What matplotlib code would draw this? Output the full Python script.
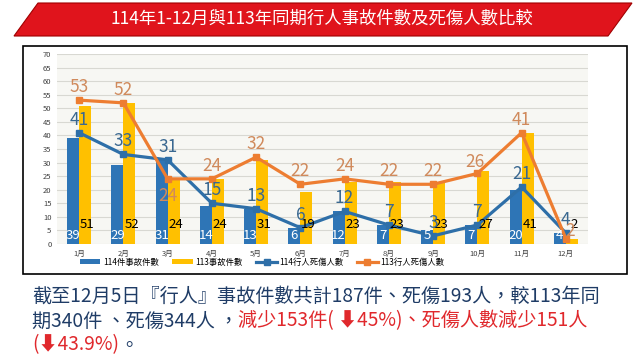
import numpy as np
import matplotlib
matplotlib.use('Agg')
import matplotlib.pyplot as plt
from matplotlib.patches import Polygon, Rectangle

plt.rcParams['font.family'] = ['Noto Sans CJK TC', 'DejaVu Sans']

# data
months = ['1月', '2月', '3月', '4月', '5月', '6月', '7月', '8月', '9月', '10月', '11月', '12月']
cases_114 = [39, 29, 31, 14, 13, 6, 12, 7, 5, 7, 20, 4]
cases_113 = [51, 52, 24, 24, 31, 19, 23, 23, 23, 27, 41, 2]
casualties_114 = [41, 33, 31, 15, 13, 6, 12, 7, 3, 7, 21, 4]
casualties_113 = [53, 52, 24, 24, 32, 22, 24, 22, 22, 26, 41, 2]
legend_labels = ['114件事故件數', '113事故件數', '114行人死傷人數', '113行人死傷人數']
title = '114年1-12月與113年同期行人事故件數及死傷人數比較'

W, H = 640, 360
fig = plt.figure(figsize=(6.4, 3.6), dpi=100)

def fx(px):
    return px / W

def fy(py):
    return 1 - py / H

# background layer: banner, chart box, text
bg = fig.add_axes([0, 0, 1, 1], zorder=-1)
bg.set_xlim(0, 1)
bg.set_ylim(0, 1)
bg.axis('off')

banner = Polygon([(fx(14), fy(36)), (fx(38), fy(3)), (fx(632), fy(3)), (fx(608), fy(36))],
                 closed=True, facecolor='#e0141c', edgecolor='#a00000', lw=0.8)
bg.add_patch(banner)
bg.text(fx(322), fy(19), title, color='white', fontsize=12.5, fontweight='medium',
        ha='center', va='center')

box = Rectangle((fx(23), fy(274)), fx(627 - 23), (274 - 46) / H,
                facecolor='white', edgecolor='black', lw=1.2)
bg.add_patch(box)

# chart
ax = fig.add_axes([fx(57), fy(244), fx(588 - 57), (244 - 54) / H])
ax.set_facecolor('#f7f7f3')
x = np.arange(len(months))
bw = 0.27
b1 = ax.bar(x - bw / 2, cases_114, bw, color='#2e75b6', label=legend_labels[0], zorder=2)
b2 = ax.bar(x + bw / 2, cases_113, bw, color='#ffc000', label=legend_labels[1], zorder=2)
l1, = ax.plot(x, casualties_114, color='#2e6fa8', lw=2.3, marker='s', ms=4,
              label=legend_labels[2], zorder=3)
l2, = ax.plot(x, casualties_113, color='#ed7d31', lw=2.3, marker='s', ms=4,
              label=legend_labels[3], zorder=3)

for i in range(len(months)):
    ax.text(x[i] - bw / 2, 3, str(cases_114[i]), color='white', fontsize=9.5,
            ha='center', va='center', zorder=5)
    ax.text(x[i] + bw / 2 + 0.05, 7, str(cases_113[i]), color='black', fontsize=9.5,
            ha='center', va='center', zorder=5)

off_114 = {}
off_113 = {2: (0, -17), 11: (4, 8), 9: (-2, 11)}
for i in range(len(months)):
    dx, dy = off_114.get(i, (0, 13))
    ax.annotate(str(casualties_114[i]), (x[i], casualties_114[i]), xytext=(dx, dy),
                textcoords='offset pixels', ha='center', va='center',
                color='#3a6890', fontsize=12.5, zorder=6)
    dx, dy = off_113.get(i, (0, 13))
    ax.annotate(str(casualties_113[i]), (x[i], casualties_113[i]), xytext=(dx, dy),
                textcoords='offset pixels', ha='center', va='center',
                color='#d08a5c', fontsize=12.5, zorder=6)

ax.set_xlim(-0.5, 11.5)
ax.set_ylim(0, 70)
ax.set_yticks(range(0, 71, 5))
ax.set_xticks(x)
ax.set_xticklabels(months)
ax.tick_params(axis='both', length=0, labelsize=5.5, colors='#404040', pad=4)
ax.grid(axis='y', color='#d8d8d2', lw=0.8, zorder=0)
for s in ax.spines.values():
    s.set_visible(False)

fig.legend([b1, b2, l1, l2], legend_labels, loc='center',
           bbox_to_anchor=(fx(262), fy(262)), ncol=4, frameon=False,
           fontsize=6, handlelength=2.5, columnspacing=1.6, handletextpad=0.3,
           handleheight=0.4)

# summary text with coloured parts
navy = '#1f3c66'
red = '#e0282c'
lines = [
    [('截至12月5日『行人』事故件數共計187件、死傷193人，較113年同', navy)],
    [('期340件 、死傷344人 ，', navy), ('減少153件( ⬇45%)、死傷人數減少151人', red)],
    [('(⬇43.9%)', red), ('。', navy)],
]
line_y = [296, 321, 345]
for parts, py in zip(lines, line_y):
    t = bg.text(fx(32), fy(py), parts[0][0], color=parts[0][1], fontsize=13.8,
                fontweight='medium', va='center', ha='left')
    for s, c in parts[1:]:
        t = bg.annotate(s, xy=(1, 0.5), xycoords=t, va='center', ha='left',
                        color=c, fontsize=13.8, fontweight='medium')

fig.savefig('out.png', dpi=100, facecolor='white')
